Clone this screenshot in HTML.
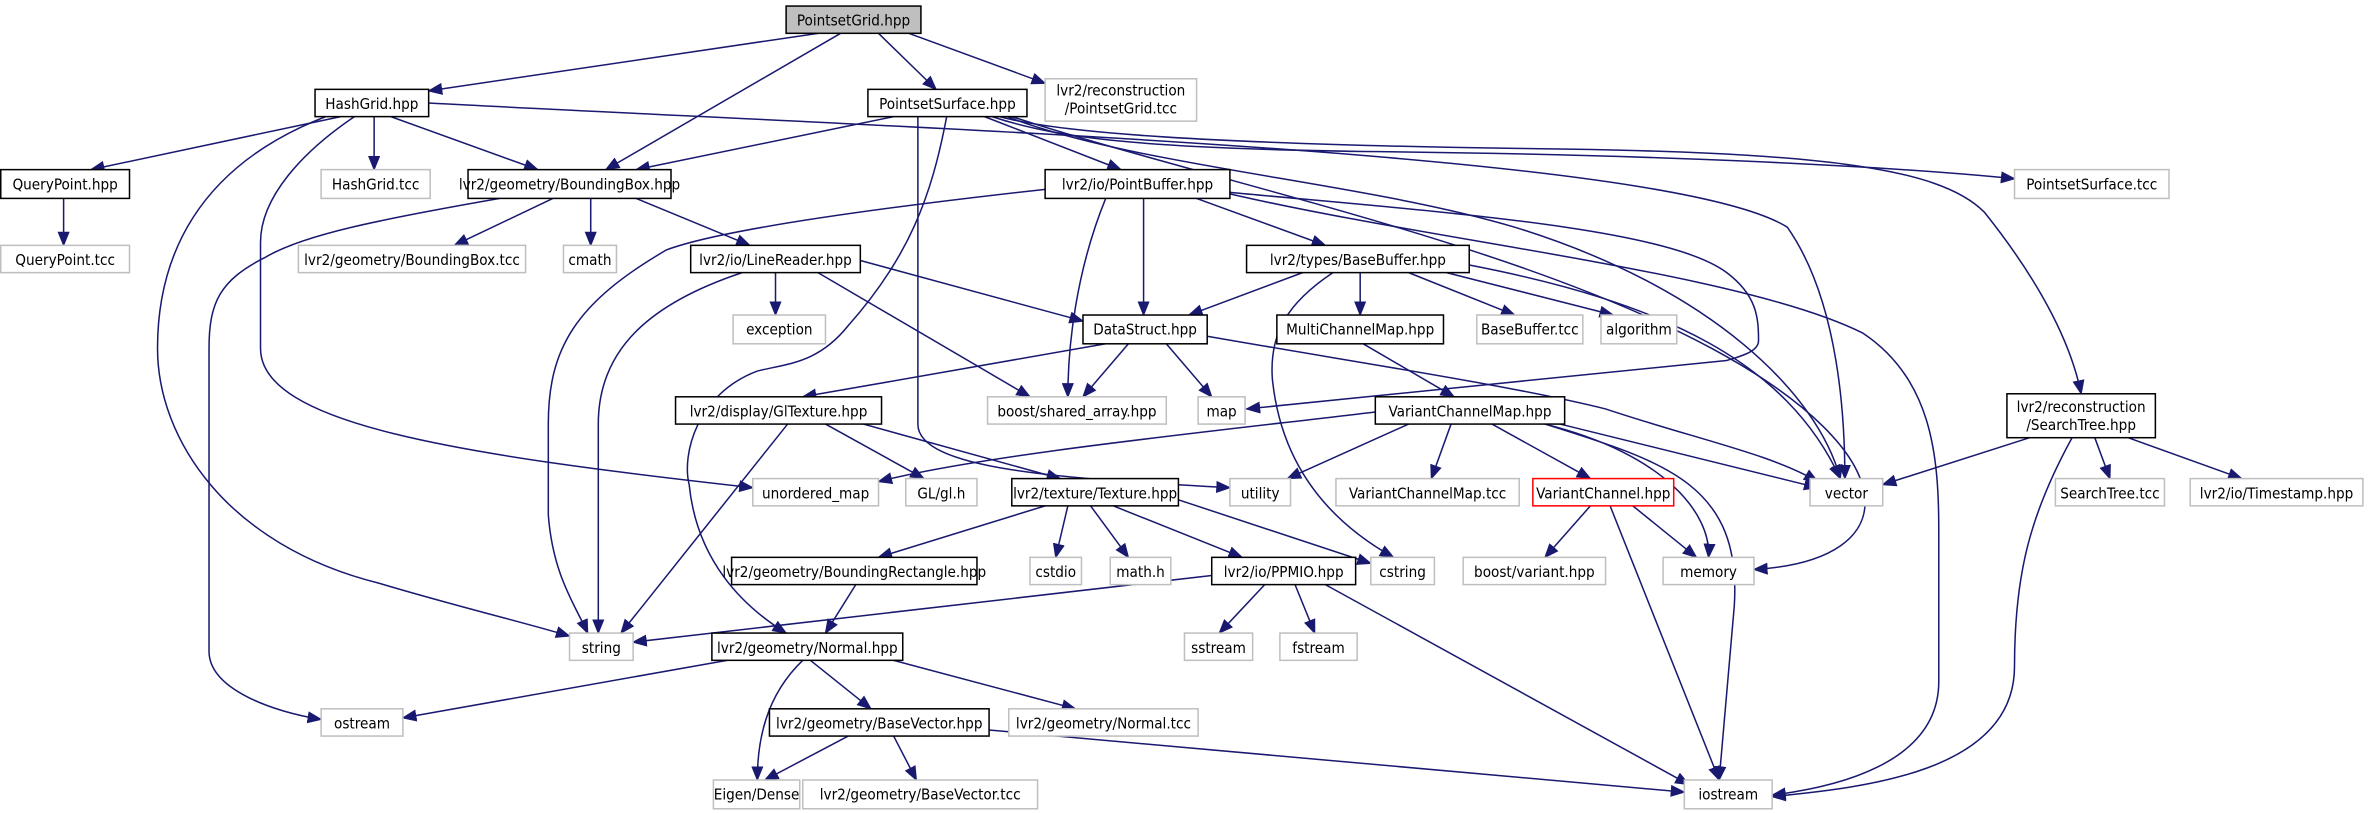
<!DOCTYPE html>
<html><head><meta charset="utf-8"><style>
html,body{margin:0;padding:0;background:#fff;}
svg{display:block;}
text{font-family:"DejaVu Sans Condensed","DejaVu Sans","Liberation Sans",sans-serif;font-size:10px;text-anchor:middle;fill:#000;}
.n{fill:#fff;stroke:#000;stroke-width:1;}
.g{fill:#fff;stroke:#bfbfbf;stroke-width:1;}
.e path{fill:none;stroke:#191970;stroke-width:1;marker-end:url(#a);}
</style></head><body>
<svg width="2375" height="813" viewBox="0 0 1568 536.8" preserveAspectRatio="none" xmlns="http://www.w3.org/2000/svg">
<defs><marker id="a" markerUnits="userSpaceOnUse" markerWidth="10" markerHeight="8" refX="9" refY="4" orient="auto"><path d="M0,0 L10,4 L0,8 z" fill="#191970"/></marker></defs>
<g class="e">
<path d="M540,22 L283,60"/>
<path d="M555,22 L400,112"/>
<path d="M580,22 L618,59"/>
<path d="M600,22 L690,55"/>
<path d="M225,77 L60,112"/>
<path d="M247,77 L247,112"/>
<path d="M258,77 L355,112"/>
<path d="M215,77 C130,110 104,170 104,230 C104,290 150,360 250,385 C300,400 350,412 376,420"/>
<path d="M234,77 C200,100 172,130 172,160 L172,230 C172,280 300,300 497,322"/>
<path d="M283,68 C600,85 1100,100 1180,150 C1215,200 1218,280 1218,316"/>
<path d="M590,77 L420,112"/>
<path d="M650,77 L740,112"/>
<path d="M625,77 C615,130 600,170 560,215 C540,240 520,240 500,245 C460,260 450,300 455,320 C460,370 490,400 519,418"/>
<path d="M606,77 L606,280 C606,310 700,316 812,322"/>
<path d="M655,77 C700,92 760,98 900,100 C1100,102 1250,110 1330,118"/>
<path d="M660,77 C700,88 800,95 1000,98 C1200,100 1280,110 1310,140 C1350,190 1368,230 1374,260"/>
<path d="M665,77 C750,110 900,120 1000,150 C1130,190 1200,260 1215,316"/>
<path d="M668,77 C800,120 1000,160 1130,230 C1260,300 1260,370 1158,376"/>
<path d="M812,127 C950,140 1100,150 1140,180 C1160,195 1161,210 1161,225 C1161,232 1150,235 1140,238 L823,270"/>
<path d="M812,128 C950,160 1150,180 1230,220 C1275,250 1280,300 1280,350 L1280,450 C1280,505 1210,520 1170,525"/>
<path d="M42,131 L42,162"/>
<path d="M365,131 L300,162"/>
<path d="M390,131 L390,162"/>
<path d="M420,131 L495,162"/>
<path d="M330,131 C250,145 200,155 175,170 C145,185 138,200 138,230 L138,430 C138,455 180,470 212,475"/>
<path d="M690,125 C600,135 480,150 440,165 C380,200 362,230 362,280 L362,340 C365,380 380,400 388,418"/>
<path d="M730,131 C710,180 705,230 705,262"/>
<path d="M755,131 L755,208"/>
<path d="M790,131 L875,162"/>
<path d="M512,180 L512,208"/>
<path d="M490,180 C430,200 395,230 395,280 L395,418"/>
<path d="M568,172 L715,212"/>
<path d="M540,180 L680,262"/>
<path d="M860,180 L785,208"/>
<path d="M898,180 L898,208"/>
<path d="M930,180 L1000,208"/>
<path d="M955,180 L1065,208"/>
<path d="M880,180 C850,200 838,220 840,250 C845,300 870,340 920,368"/>
<path d="M970,175 C1100,200 1180,240 1215,316"/>
<path d="M730,227 L530,262"/>
<path d="M745,227 L715,262"/>
<path d="M770,227 L800,262"/>
<path d="M797,222 C900,240 1000,255 1060,270 C1120,290 1170,300 1200,318"/>
<path d="M900,227 L960,262"/>
<path d="M908,272 C800,285 650,300 580,318"/>
<path d="M930,280 L850,316"/>
<path d="M958,280 L945,316"/>
<path d="M985,280 L1050,316"/>
<path d="M1030,280 L1200,322"/>
<path d="M1020,280 C1100,300 1130,340 1128,368"/>
<path d="M1020,280 C1100,305 1150,320 1145,400 L1135,515"/>
<path d="M1340,289 L1243,320"/>
<path d="M1383,289 L1393,316"/>
<path d="M1405,289 L1480,316"/>
<path d="M1368,289 C1340,340 1330,380 1330,440 C1330,510 1230,520 1170,526"/>
<path d="M520,280 L410,418"/>
<path d="M545,280 L610,316"/>
<path d="M570,280 L700,316"/>
<path d="M690,334 L580,368"/>
<path d="M705,334 L697,368"/>
<path d="M720,334 L745,368"/>
<path d="M735,334 L820,368"/>
<path d="M778,330 L905,372"/>
<path d="M565,386 L545,418"/>
<path d="M800,380 L418,424"/>
<path d="M835,386 L805,418"/>
<path d="M855,386 L868,418"/>
<path d="M875,386 L1115,518"/>
<path d="M1050,334 L1020,368"/>
<path d="M1078,334 L1120,368"/>
<path d="M1063,334 L1135,515"/>
<path d="M480,436 L266,474"/>
<path d="M535,436 L575,468"/>
<path d="M590,436 L710,468"/>
<path d="M530,436 C505,460 500,490 500,515"/>
<path d="M560,486 L505,515"/>
<path d="M590,486 L605,515"/>
<path d="M653,482 L1112,523"/>
</g>
<rect x="519" y="4" width="89" height="18" fill="#bfbfbf" stroke="#000"/><text x="563.5" y="17">PointsetGrid.hpp</text>

<rect class="n" x="208" y="59" width="75" height="18"/><text x="245.5" y="72">HashGrid.hpp</text>
<rect class="n" x="573" y="59" width="105" height="18"/><text x="625.5" y="72">PointsetSurface.hpp</text>
<rect class="g" x="690" y="52" width="100" height="28"/><text x="740" y="63">lvr2/reconstruction</text><text x="740" y="75">/PointsetGrid.tcc</text>

<rect class="n" x="0.5" y="112" width="85" height="19"/><text x="43" y="125">QueryPoint.hpp</text>
<rect class="g" x="212" y="112" width="72" height="19"/><text x="248" y="125">HashGrid.tcc</text>
<rect class="n" x="309" y="112" width="134" height="19"/><text x="376" y="125">lvr2/geometry/BoundingBox.hpp</text>
<rect class="n" x="690" y="112" width="122" height="19"/><text x="751" y="125">lvr2/io/PointBuffer.hpp</text>
<rect class="g" x="1330" y="112" width="102" height="19"/><text x="1381" y="125">PointsetSurface.tcc</text>

<rect class="g" x="0.5" y="162" width="85" height="18"/><text x="43" y="175">QueryPoint.tcc</text>
<rect class="g" x="197" y="162" width="150" height="18"/><text x="272" y="175">lvr2/geometry/BoundingBox.tcc</text>
<rect class="g" x="372" y="162" width="35" height="18"/><text x="389.5" y="175">cmath</text>
<rect class="n" x="456" y="162" width="112" height="18"/><text x="512" y="175">lvr2/io/LineReader.hpp</text>
<rect class="n" x="823" y="162" width="147" height="18"/><text x="896.5" y="175">lvr2/types/BaseBuffer.hpp</text>

<rect class="g" x="484" y="208" width="61" height="19"/><text x="514.5" y="221">exception</text>
<rect class="n" x="715" y="208" width="82" height="19"/><text x="756" y="221">DataStruct.hpp</text>
<rect class="n" x="843" y="208" width="110" height="19"/><text x="898" y="221">MultiChannelMap.hpp</text>
<rect class="g" x="975" y="208" width="70" height="19"/><text x="1010" y="221">BaseBuffer.tcc</text>
<rect class="g" x="1057" y="208" width="50" height="19"/><text x="1082" y="221">algorithm</text>

<rect class="n" x="446" y="262" width="136" height="18"/><text x="514" y="275">lvr2/display/GlTexture.hpp</text>
<rect class="g" x="652" y="262" width="118" height="18"/><text x="711" y="275">boost/shared_array.hpp</text>
<rect class="g" x="791" y="262" width="31" height="18"/><text x="806.5" y="275">map</text>
<rect class="n" x="908" y="262" width="125" height="18"/><text x="970.5" y="275">VariantChannelMap.hpp</text>
<rect class="n" x="1325" y="260" width="98" height="29"/><text x="1374" y="272">lvr2/reconstruction</text><text x="1374" y="284">/SearchTree.hpp</text>

<rect class="g" x="497" y="316" width="83" height="18"/><text x="538.5" y="329">unordered_map</text>
<rect class="g" x="598" y="316" width="47" height="18"/><text x="621.5" y="329">GL/gl.h</text>
<rect class="n" x="668" y="316" width="110" height="18"/><text x="723" y="329">lvr2/texture/Texture.hpp</text>
<rect class="g" x="812" y="316" width="40" height="18"/><text x="832" y="329">utility</text>
<rect class="g" x="882" y="316" width="121" height="18"/><text x="942.5" y="329">VariantChannelMap.tcc</text>
<rect x="1012" y="316" width="93" height="18" fill="#fff" stroke="#f00"/><text x="1058.5" y="329">VariantChannel.hpp</text>
<rect class="g" x="1195" y="316" width="48" height="18"/><text x="1219" y="329">vector</text>
<rect class="g" x="1357" y="316" width="72" height="18"/><text x="1393" y="329">SearchTree.tcc</text>
<rect class="g" x="1446" y="316" width="114" height="18"/><text x="1503" y="329">lvr2/io/Timestamp.hpp</text>

<rect class="n" x="483" y="368" width="162" height="18"/><text x="564" y="381">lvr2/geometry/BoundingRectangle.hpp</text>
<rect class="g" x="680" y="368" width="34" height="18"/><text x="697" y="381">cstdio</text>
<rect class="g" x="733" y="368" width="40" height="18"/><text x="753" y="381">math.h</text>
<rect class="n" x="800" y="368" width="95" height="18"/><text x="847.5" y="381">lvr2/io/PPMIO.hpp</text>
<rect class="g" x="905" y="368" width="42" height="18"/><text x="926" y="381">cstring</text>
<rect class="g" x="966" y="368" width="94" height="18"/><text x="1013" y="381">boost/variant.hpp</text>
<rect class="g" x="1098" y="368" width="60" height="18"/><text x="1128" y="381">memory</text>

<rect class="g" x="376" y="418" width="42" height="18"/><text x="397" y="431">string</text>
<rect class="n" x="470" y="418" width="126" height="18"/><text x="533" y="431">lvr2/geometry/Normal.hpp</text>
<rect class="g" x="782" y="418" width="45" height="18"/><text x="804.5" y="431">sstream</text>
<rect class="g" x="845" y="418" width="51" height="18"/><text x="870.5" y="431">fstream</text>

<rect class="g" x="212" y="468" width="54" height="18"/><text x="239" y="481">ostream</text>
<rect class="n" x="508" y="468" width="145" height="18"/><text x="580.5" y="481">lvr2/geometry/BaseVector.hpp</text>
<rect class="g" x="666" y="468" width="125" height="18"/><text x="728.5" y="481">lvr2/geometry/Normal.tcc</text>

<rect class="g" x="471" y="515" width="57" height="19"/><text x="499.5" y="528">Eigen/Dense</text>
<rect class="g" x="530" y="515" width="155" height="19"/><text x="607.5" y="528">lvr2/geometry/BaseVector.tcc</text>
<rect class="g" x="1112" y="515" width="58" height="19"/><text x="1141" y="528">iostream</text>
</svg>
</body></html>
